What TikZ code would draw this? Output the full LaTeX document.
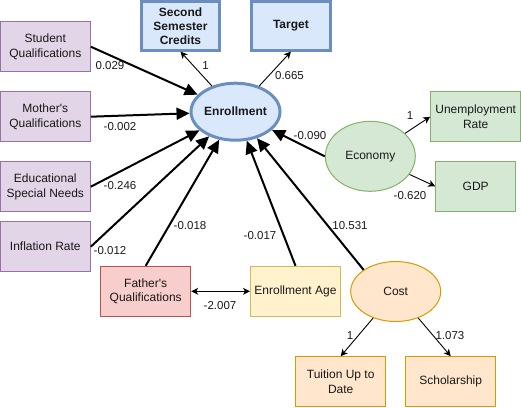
\documentclass[tikz,border=0pt]{standalone}
\usepackage{fontspec}
\setmainfont{Liberation Sans}
\usetikzlibrary{shapes.geometric,arrows.meta}
\definecolor{purfill}{HTML}{E1D5E7}\definecolor{purline}{HTML}{9673A6}
\definecolor{redfill}{HTML}{F8CECC}\definecolor{redline}{HTML}{B85450}
\definecolor{yelfill}{HTML}{FFF2CC}\definecolor{yelline}{HTML}{D6B656}
\definecolor{orafill}{HTML}{FFE6CC}\definecolor{oraline}{HTML}{D79B00}
\definecolor{grnfill}{HTML}{D5E8D4}\definecolor{grnline}{HTML}{82B366}
\definecolor{blufill}{HTML}{DAE8FC}\definecolor{bluline}{HTML}{6C8EBF}
\begin{document}
\begin{tikzpicture}[x=1pt,y=-1pt,
  txt/.style={font=\fontsize{12}{14.5}\selectfont, text=black!90},
  box/.style={txt, draw, rectangle, inner sep=0pt, minimum width=90pt, minimum height=50pt, align=center, line width=1pt},
  purbox/.style={box, draw=purline, fill=purfill},
  redbox/.style={box, draw=redline, fill=redfill},
  yelbox/.style={box, draw=yelline, fill=yelfill},
  orabox/.style={box, draw=oraline, fill=orafill},
  grnbox/.style={box, draw=grnline, fill=grnfill},
  blubox/.style={box, draw=bluline, fill=blufill, line width=3pt, minimum width=78pt, minimum height=48.5pt, font=\fontsize{12}{14}\selectfont\bfseries},
  oval/.style={txt, ellipse, draw, inner sep=0pt, line width=1pt},
  mainarrow/.style={line width=2pt, -{Triangle[length=13pt,width=12pt]}},
  thinarrow/.style={line width=0.9pt, -{Stealth[length=7pt,width=7pt,inset=2pt]}},
  dblarrow/.style={line width=1pt, {Stealth[length=7pt,width=7pt,inset=2pt]}-{Stealth[length=7pt,width=7pt,inset=2pt]}},
  lab/.style={font=\fontsize{11.5}{13}\selectfont, text=black!90, inner sep=0pt}
]
\useasboundingbox (0,0) rectangle (521,407);
% nodes
\node[purbox] (stud) at (45.3,46.7) {Student\\Qualifications};
\node[purbox] (moth) at (45.3,116.7) {Mother\textquotesingle s\\Qualifications};
\node[purbox] (edu) at (45.3,186.7) {Educational\\Special Needs};
\node[purbox] (infl) at (45.3,246.7) {Inflation Rate};
\node[redbox] (fath) at (145.7,291.3) {Father\textquotesingle s\\Qualifications};
\node[yelbox] (age) at (295.5,291.3) {Enrollment Age};
\node[orabox] (tuit) at (340.7,381.7) {Tuition Up to\\Date};
\node[orabox] (schol) at (450.7,381.7) {Scholarship};
\node[grnbox] (unemp) at (475.7,116.7) {Unemployment\\Rate};
\node[grnbox, minimum width=80pt] (gdp) at (475.7,186.3) {GDP};
\node[blubox] (ssc) at (180.5,25.9) {Second\\Semester\\Credits};
\node[blubox, minimum width=78.7pt] (tgt) at (290.9,25.9) {Target};
\node[oval, draw=grnline, fill=grnfill, minimum width=90pt, minimum height=70pt] (eco) at (370.3,156.3) {Economy};
\node[oval, draw=oraline, fill=orafill, minimum width=90pt, minimum height=60pt] (cost) at (395.7,291.5) {Cost};
\node[oval, draw=bluline, fill=blufill, line width=3pt, minimum width=89pt, minimum height=57pt, font=\fontsize{12}{14}\selectfont\bfseries] (enr) at (235.5,111.7) {Enrollment};
% connectors
\draw[mainarrow] (stud.east) -- (enr);
\draw[mainarrow] (moth.east) -- (enr);
\draw[mainarrow] (edu.east) -- (enr);
\draw[mainarrow] (infl.east) -- (enr);
\draw[mainarrow] (fath.north) -- (enr);
\draw[mainarrow] (age.north) -- (enr);
\draw[mainarrow] (cost.146) -- (enr);
\draw[mainarrow] (eco.west) -- (enr);
\draw[thinarrow] (enr) -- (ssc.south);
\draw[thinarrow] (enr) -- (tgt.south);
\draw[thinarrow] (eco) -- (unemp.west);
\draw[thinarrow] (eco) -- (gdp.west);
\draw[thinarrow] (cost) -- (tuit.north);
\draw[thinarrow] (cost) -- (schol.north);
\draw[dblarrow] (fath.east) -- (age.west);
% labels
\node[lab] (l1) at (110,66) {0.029};
\node[lab] (l2) at (120,126.5) {-0.002};
\node[lab] (l3) at (120,186) {-0.246};
\node[lab] (l4) at (110,250.5) {-0.012};
\node[lab] (l5) at (190,225.5) {-0.018};
\node[lab] (l6) at (260,235.5) {-0.017};
\node[lab] (l7) at (350,225.5) {10.531};
\node[lab] (l8) at (310,135.5) {-0.090};
\node[lab] (l9) at (205.5,66) {1};
\node[lab] (l10) at (289.5,75.5) {0.665};
\node[lab] (l11) at (410,116) {1};
\node[lab] (l12) at (410,196) {-0.620};
\node[lab] (l13) at (220,305.5) {-2.007};
\node[lab] (l14) at (350,336) {1};
\node[lab] (l15) at (450,336) {1.073};
\end{tikzpicture}
\end{document}
